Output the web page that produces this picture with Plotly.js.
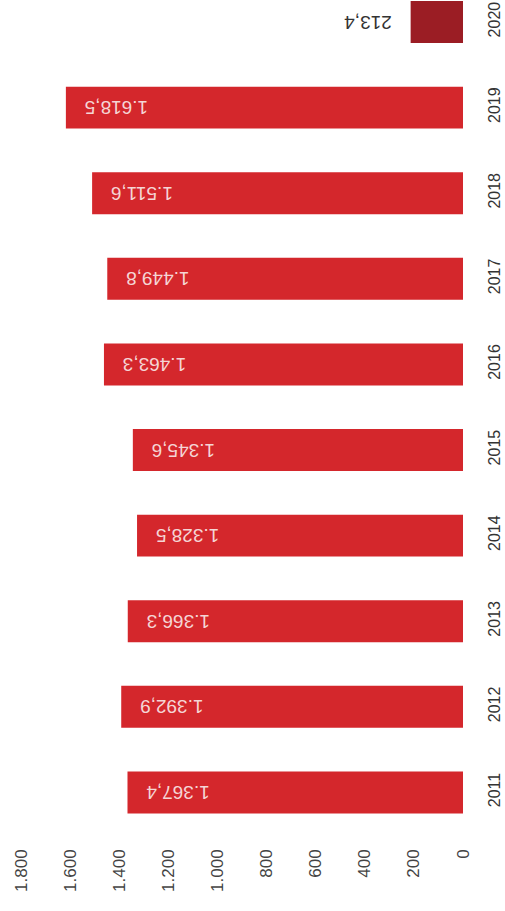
<!DOCTYPE html>
<html>
<head>
<meta charset="utf-8">
<script src="https://cdn.plot.ly/plotly-3.0.1.min.js"></script>
<style>html,body{margin:0;padding:0;background:#fff;}#chart{width:505px;height:911px;}</style>
</head>
<body>
<div id="chart"></div>
<script>
const years = ['2011','2012','2013','2014','2015','2016','2017','2018','2019','2020'];
const values = [1367.4, 1392.9, 1366.3, 1328.5, 1345.6, 1463.3, 1449.8, 1511.6, 1618.5, 213.4];
const valueTicks = [0, 200, 400, 600, 800, 1000, 1200, 1400, 1600, 1800];
const barColors = ['#d4272c','#d4272c','#d4272c','#d4272c','#d4272c','#d4272c','#d4272c','#d4272c','#d4272c','#9b1d24'];

const positions = values.map((v, i) => i === values.length - 1 ? 'outside' : 'inside');
const templates = positions.map(p => p === 'inside' ? '%{x:,.1f}\u00a0\u00a0\u00a0' : '\u00a0\u00a0\u00a0%{x:,.1f}');

const FONT = 'Liberation Sans';

const trace = {
  type: 'bar',
  orientation: 'h',
  x: values,
  y: years,
  marker: {color: barColors},
  texttemplate: templates,
  textposition: positions,
  insidetextanchor: 'end',
  textangle: 180,
  constraintext: 'none',
  cliponaxis: false,
  insidetextfont: {family: FONT, size: 19, color: '#f5d5d5'},
  outsidetextfont: {family: FONT, size: 19, color: '#333333'},
  hoverinfo: 'none'
};

const layout = {
  width: 505,
  height: 911,
  margin: {l: 0, r: 42, t: 0, b: 69},
  paper_bgcolor: '#ffffff',
  plot_bgcolor: '#ffffff',
  separators: ',.',
  showlegend: false,
  bargap: 0.51,
  font: {family: FONT, color: '#444444'},
  xaxis: {
    range: [1887, 0],
    tickvals: valueTicks,
    tickformat: ',d',
    separatethousands: true,
    tickangle: -90,
    showgrid: false,
    zeroline: false,
    showline: false,
    ticks: '',
    ticklabelstandoff: 3,
    tickfont: {family: FONT, size: 17, color: '#444444'}
  },
  yaxis: {
    type: 'category',
    categoryorder: 'array',
    categoryarray: years,
    range: [-0.579, 9.257],
    side: 'right',
    tickangle: -90,
    showgrid: false,
    zeroline: false,
    showline: false,
    ticks: '',
    ticklabelstandoff: 20,
    tickfont: {family: FONT, size: 16, color: '#333333'}
  }
};

Plotly.newPlot('chart', [trace], layout, {staticPlot: true, displayModeBar: false});
</script>
</body>
</html>
